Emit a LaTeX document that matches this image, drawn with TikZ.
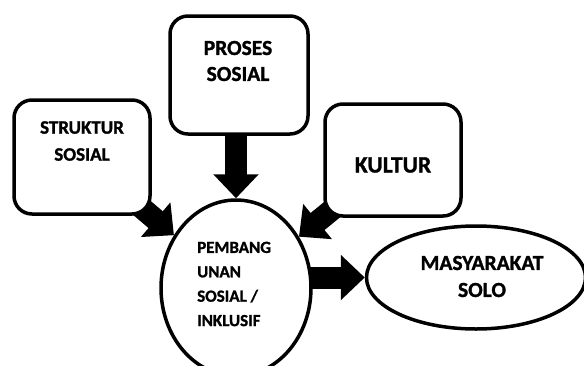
\documentclass[tikz,border=0pt]{standalone}
\usepackage{fontspec}
\setmainfont{Carlito}[BoldFeatures={FakeBold=1.2}]
\usetikzlibrary{arrows.meta,shapes.geometric,backgrounds}
\tikzset{
  box/.style={draw, line width=3.5pt, rounded corners=18pt, fill=white, inner sep=0pt},
  oval/.style={draw, ellipse, line width=3.5pt, fill=white, inner sep=0pt},
  lbl/.style={font=\bfseries, align=center, inner sep=0pt},
  blockarrow/.style={line width=22pt, -{Triangle[length=24pt,width=44pt]}}
}
\begin{document}
\begin{tikzpicture}[x=1pt,y=-1pt]
\useasboundingbox (0,0) rectangle (584,365);
\clip (0,0) rectangle (584,365);
% shapes
\node[box, minimum width=136pt, minimum height=114pt] (s) at (82,157) {};
\node[box, minimum width=138pt, minimum height=118pt] (p) at (239,75) {};
\node[box, minimum width=136pt, minimum height=112pt] (k) at (393,160) {};
\node[oval, minimum width=150pt, minimum height=176pt] (c) at (236,288) {};
\node[oval, minimum width=219pt, minimum height=103pt] (m) at (476,277.5) {};
% texts
\node[lbl, font=\bfseries\fontsize{19}{27}\selectfont] (ts) at (82,141) {STRUKTUR\\SOSIAL};
\node[lbl, font=\bfseries\fontsize{21.5}{26}\selectfont] (tp) at (238,61) {PROSES\\SOSIAL};
\node[lbl, font=\bfseries\fontsize{23.5}{27}\selectfont] (tk) at (393,165) {KULTUR};
\node[lbl, font=\bfseries\fontsize{21.5}{27}\selectfont] (tm) at (482,276.5) {MASYARAKAT\\SOLO};
\node[lbl, align=left, anchor=west, font=\bfseries\fontsize{17}{24.4}\selectfont] (tc) at (197,284) {PEMBANG\\UNAN\\SOSIAL /\\INKLUSIF};
% arrows
\begin{pgfonlayer}{background}
\draw[blockarrow] (s.center) -- (c);
\draw[blockarrow] (c.north |- p.center) -- (c.north);
\draw[blockarrow] (k.center) -- (c);
\draw[blockarrow] (c.center |- m.west) -- (m.west);
\end{pgfonlayer}
\end{tikzpicture}
\end{document}
